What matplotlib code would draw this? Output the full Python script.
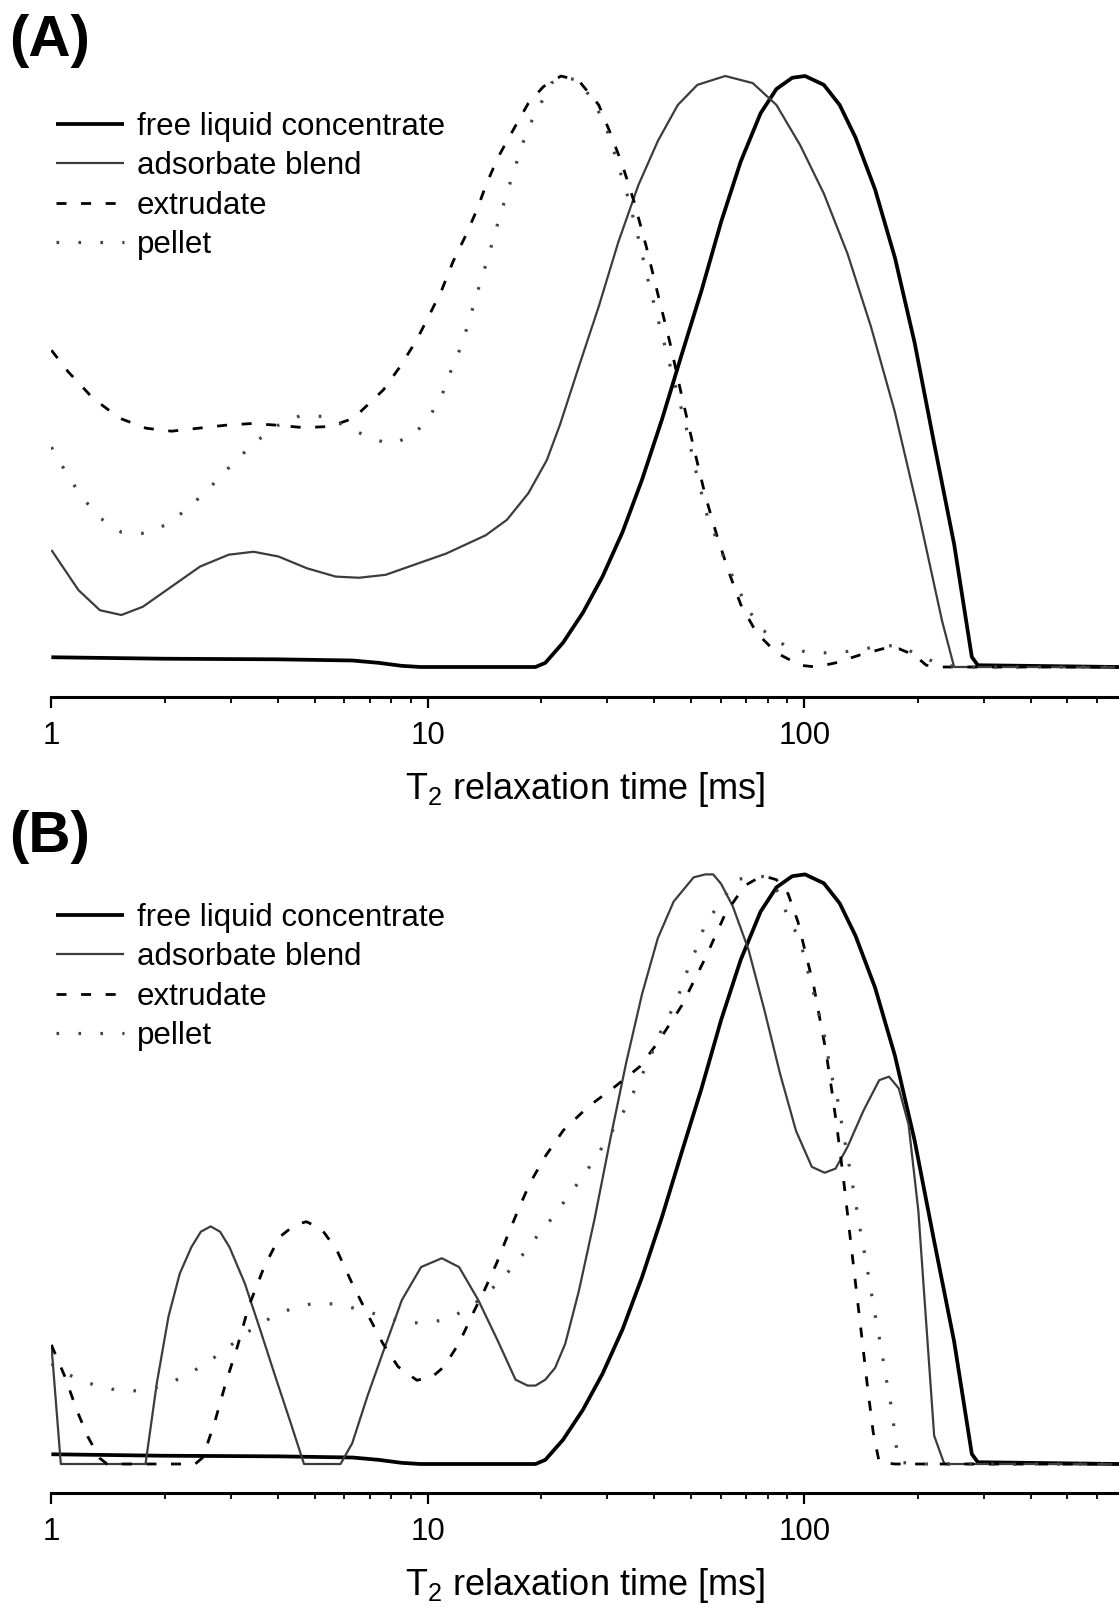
import numpy as np
from matplotlib import pyplot as plt
from matplotlib.ticker import LogLocator, NullFormatter, FixedLocator

plt.rcParams['font.family'] = ['Liberation Sans', 'DejaVu Sans']
plt.rcParams['mathtext.fontset'] = 'custom'
plt.rcParams['mathtext.rm'] = 'Liberation Sans'
plt.rcParams['lines.scale_dashes'] = False

labels = ["free liquid concentrate", "adsorbate blend", "extrudate", "pellet"]

# log10 of T2 [ms] and normalised amplitude
# free liquid concentrate is the same in both panels
log_t2_free = [0.0, 0.3, 0.6, 0.8, 0.87, 0.93, 0.98, 1.286, 1.312, 1.359, 1.412, 1.464, 1.517,
               1.569, 1.622, 1.674, 1.727, 1.779, 1.831, 1.884, 1.926, 1.968, 2.002, 2.052,
               2.094, 2.136, 2.188, 2.241, 2.293, 2.345, 2.398, 2.445, 2.461, 2.836]
amp_free = [0.0165, 0.014, 0.013, 0.011, 0.007, 0.002, 0.0, 0.0, 0.007, 0.041, 0.092, 0.153, 0.228,
            0.317, 0.419, 0.528, 0.637, 0.753, 0.855, 0.937, 0.978, 0.997, 1.0, 0.985,
            0.951, 0.896, 0.808, 0.692, 0.549, 0.378, 0.208, 0.017, 0.003, 0.0]

# panel A
log_t2_ads_a = [0.0, 0.072, 0.129, 0.186, 0.243, 0.319, 0.395, 0.471, 0.537, 0.603, 0.679, 0.755,
                0.817, 0.888, 0.964, 1.049, 1.154, 1.21, 1.267, 1.316, 1.351, 1.401, 1.454, 1.506,
                1.559, 1.611, 1.664, 1.716, 1.79, 1.863, 1.926, 1.989, 2.052, 2.115, 2.177, 2.24,
                2.303, 2.366, 2.398, 2.836]
amp_ads_a = [0.198, 0.130, 0.096, 0.088, 0.102, 0.136, 0.170, 0.190, 0.195, 0.187, 0.167, 0.153,
             0.151, 0.156, 0.173, 0.192, 0.223, 0.249, 0.294, 0.350, 0.410, 0.508, 0.610, 0.719,
             0.815, 0.890, 0.951, 0.985, 1.0, 0.988, 0.951, 0.883, 0.801, 0.699, 0.576, 0.433,
             0.262, 0.078, 0.0, 0.0]

log_t2_ext_a = [0.0, 0.044, 0.110, 0.181, 0.252, 0.319, 0.390, 0.461, 0.532, 0.603, 0.670, 0.741,
                0.803, 0.882, 0.926, 0.970, 1.006, 1.037, 1.067, 1.099, 1.130, 1.156, 1.187, 1.227,
                1.267, 1.307, 1.354, 1.401, 1.454, 1.485, 1.517, 1.548, 1.58, 1.611, 1.643, 1.674,
                1.706, 1.737, 1.768, 1.8, 1.831, 1.873, 1.926, 1.989, 2.031, 2.083, 2.146, 2.209,
                2.251, 2.293, 2.324, 2.366, 2.836]
amp_ext_a = [0.536, 0.500, 0.455, 0.421, 0.404, 0.399, 0.404, 0.409, 0.412, 0.409, 0.405, 0.407,
             0.421, 0.469, 0.508, 0.553, 0.598, 0.638, 0.686, 0.728, 0.773, 0.818, 0.863, 0.909,
             0.954, 0.982, 1.0, 0.992, 0.951, 0.903, 0.849, 0.787, 0.712, 0.631, 0.549, 0.460,
             0.372, 0.290, 0.222, 0.160, 0.106, 0.058, 0.024, 0.003, 0.0, 0.007, 0.020, 0.031,
             0.031, 0.020, 0.003, 0.0, 0.0]

log_t2_pel_a = [0.0, 0.039, 0.077, 0.127, 0.186, 0.246, 0.306, 0.366, 0.426, 0.483, 0.542, 0.602,
                0.660, 0.722, 0.781, 0.841, 0.900, 0.961, 1.009, 1.041, 1.063, 1.088, 1.107, 1.125,
                1.143, 1.161, 1.178, 1.196, 1.214, 1.233, 1.252, 1.276, 1.307, 1.328, 1.359, 1.401,
                1.443, 1.475, 1.496, 1.532, 1.559, 1.590, 1.622, 1.653, 1.685, 1.711, 1.742, 1.789,
                1.847, 1.884, 1.947, 2.010, 2.067, 2.130, 2.188, 2.251, 2.303, 2.366, 2.429, 2.836]
amp_pel_a = [0.372, 0.329, 0.291, 0.253, 0.228, 0.226, 0.241, 0.270, 0.307, 0.345, 0.381, 0.409,
             0.425, 0.424, 0.408, 0.389, 0.377, 0.391, 0.428, 0.466, 0.504, 0.542, 0.580, 0.620,
             0.658, 0.695, 0.734, 0.772, 0.810, 0.848, 0.886, 0.924, 0.962, 0.988, 0.999, 0.992,
             0.954, 0.910, 0.869, 0.794, 0.726, 0.641, 0.562, 0.487, 0.409, 0.334, 0.256, 0.181,
             0.102, 0.065, 0.037, 0.024, 0.024, 0.027, 0.034, 0.037, 0.020, 0.003, 0.0, 0.0]

# panel B
log_t2_ads_b = [0.0, 0.025, 0.25, 0.280, 0.311, 0.341, 0.372, 0.397, 0.423, 0.448, 0.473, 0.514,
                0.555, 0.595, 0.636, 0.671, 0.768, 0.799, 0.839, 0.880, 0.931, 0.982, 1.037, 1.083,
                1.134, 1.185, 1.233, 1.265, 1.286, 1.312, 1.338, 1.365, 1.401, 1.443, 1.485, 1.527,
                1.569, 1.611, 1.653, 1.706, 1.737, 1.758, 1.779, 1.81, 1.852, 1.894, 1.936, 1.978,
                2.02, 2.054, 2.083, 2.115, 2.157, 2.199, 2.225, 2.251, 2.277, 2.303, 2.324, 2.345,
                2.372, 2.836]
amp_ads_b = [0.202, 0.0, 0.0, 0.137, 0.250, 0.323, 0.368, 0.394, 0.403, 0.394, 0.368, 0.306,
             0.227, 0.148, 0.069, 0.0, 0.0, 0.035, 0.114, 0.188, 0.278, 0.334, 0.349, 0.334,
             0.278, 0.210, 0.143, 0.133, 0.133, 0.143, 0.163, 0.204, 0.293, 0.416, 0.552, 0.681,
             0.797, 0.892, 0.954, 0.995, 1.0, 1.0, 0.984, 0.946, 0.872, 0.770, 0.661, 0.565,
             0.504, 0.494, 0.501, 0.538, 0.599, 0.651, 0.657, 0.637, 0.576, 0.429, 0.238, 0.048,
             0.0, 0.0]

log_t2_ext_b = [0.0, 0.036, 0.067, 0.097, 0.128, 0.148, 0.382, 0.402, 0.433, 0.463, 0.494, 0.524,
                0.565, 0.606, 0.646, 0.677, 0.717, 0.758, 0.799, 0.839, 0.880, 0.921, 0.971, 1.012,
                1.043, 1.083, 1.124, 1.147, 1.183, 1.211, 1.240, 1.271, 1.311, 1.360, 1.426, 1.497,
                1.563, 1.611, 1.674, 1.737, 1.79, 1.842, 1.889, 1.926, 1.957, 1.983, 2.004, 2.025,
                2.041, 2.057, 2.073, 2.088, 2.104, 2.12, 2.136, 2.151, 2.167, 2.183, 2.199, 2.24,
                2.836]
amp_ext_b = [0.202, 0.148, 0.092, 0.046, 0.010, 0.0, 0.0, 0.011, 0.069, 0.137, 0.199, 0.267,
             0.334, 0.385, 0.405, 0.411, 0.399, 0.363, 0.306, 0.255, 0.205, 0.165, 0.142, 0.148,
             0.165, 0.205, 0.261, 0.290, 0.341, 0.386, 0.431, 0.476, 0.521, 0.566, 0.606, 0.640,
             0.674, 0.715, 0.777, 0.858, 0.933, 0.981, 0.998, 0.991, 0.967, 0.920, 0.865, 0.811,
             0.756, 0.702, 0.634, 0.565, 0.484, 0.395, 0.307, 0.225, 0.136, 0.054, 0.003, 0.0,
             0.0]

log_t2_pel_b = [0.0, 0.036, 0.099, 0.160, 0.219, 0.280, 0.341, 0.400, 0.460, 0.519, 0.580, 0.639,
                0.700, 0.760, 0.819, 0.880, 0.939, 0.999, 1.058, 1.119, 1.180, 1.234, 1.282, 1.330,
                1.375, 1.419, 1.459, 1.495, 1.530, 1.559, 1.588, 1.612, 1.643, 1.669, 1.69, 1.716,
                1.737, 1.779, 1.821, 1.873, 1.905, 1.936, 1.957, 1.989, 2.004, 2.02, 2.036, 2.052,
                2.062, 2.073, 2.088, 2.099, 2.109, 2.12, 2.13, 2.141, 2.151, 2.162, 2.172, 2.183,
                2.193, 2.204, 2.214, 2.225, 2.235, 2.241, 2.251, 2.303, 2.836]
amp_pel_b = [0.17, 0.154, 0.137, 0.127, 0.124, 0.130, 0.145, 0.166, 0.193, 0.223, 0.247, 0.264,
             0.273, 0.271, 0.262, 0.251, 0.240, 0.239, 0.247, 0.269, 0.303, 0.340, 0.380, 0.417,
             0.456, 0.494, 0.533, 0.570, 0.609, 0.647, 0.685, 0.725, 0.763, 0.800, 0.838, 0.879,
             0.916, 0.954, 0.991, 0.998, 0.995, 0.964, 0.926, 0.889, 0.848, 0.811, 0.770, 0.732,
             0.695, 0.657, 0.620, 0.579, 0.542, 0.504, 0.467, 0.426, 0.388, 0.351, 0.313, 0.272,
             0.235, 0.198, 0.157, 0.119, 0.082, 0.044, 0.003, 0.0, 0.0]


def plot_panel(ax, tag, tag_y, legend_y, series):
    styles = [dict(color='black', lw=2.7),
              dict(color='#3c3c3c', lw=1.6),
              dict(color='black', lw=2.0, dashes=(7.2, 10.5)),
              dict(color='#444444', lw=2.3, dashes=(1.9, 13.9))]
    for (lt, amp), lab, st in zip(series, labels, styles):
        ax.plot(10 ** np.array(lt), amp, label=lab, solid_capstyle='butt',
                dash_capstyle='butt', **st)

    ax.set_xscale('log')
    ax.set_xlim(1, 10 ** 2.836)
    ax.set_yticks([])
    for s in ['top', 'right', 'left']:
        ax.spines[s].set_visible(False)
    ax.spines['bottom'].set_linewidth(2.2)
    ax.xaxis.set_major_locator(FixedLocator([1, 10, 100]))
    ax.set_xticklabels(['1', '10', '100'])
    ax.xaxis.set_minor_locator(LogLocator(base=10, subs=np.arange(2, 10)))
    ax.xaxis.set_minor_formatter(NullFormatter())
    ax.tick_params(axis='x', which='major', direction='out', length=8, width=1.6,
                   labelsize=22.5, pad=9)
    ax.tick_params(axis='x', which='minor', direction='out', length=4.3, width=1.3)
    ax.set_xlabel(r'T$_{\mathregular{2}}$ relaxation time [ms]', fontsize=26, labelpad=14)

    ax.legend(loc='upper left', frameon=False, fontsize=22.5, handlelength=2.16,
              handletextpad=0.42, labelspacing=0.3, borderpad=0, borderaxespad=0,
              bbox_to_anchor=(56 / 1119, legend_y), bbox_transform=ax.figure.transFigure)
    ax.figure.text(0.008, tag_y, tag, fontsize=42, fontweight='bold', va='center')


fig = plt.figure(figsize=(11.19, 16.11), dpi=100)
ax_a = fig.add_axes([51.4 / 1119, 1 - 697 / 1611, 1 - 51.4 / 1119, (697 - 35) / 1611])
ax_a.set_ylim(-30 / 591, 1 + 41 / 591)
ax_b = fig.add_axes([51.4 / 1119, 1 - 1493 / 1611, 1 - 51.4 / 1119, (1493 - 835) / 1611])
ax_b.set_ylim(-29 / 589.6, 1 + 39.4 / 589.6)

plot_panel(ax_a, '(A)', 1 - 41 / 1611, 1 - 112 / 1611,
           [(log_t2_free, amp_free), (log_t2_ads_a, amp_ads_a),
            (log_t2_ext_a, amp_ext_a), (log_t2_pel_a, amp_pel_a)])
plot_panel(ax_b, '(B)', 1 - 837 / 1611, 1 - 903 / 1611,
           [(log_t2_free, amp_free), (log_t2_ads_b, amp_ads_b),
            (log_t2_ext_b, amp_ext_b), (log_t2_pel_b, amp_pel_b)])

plt.savefig("out.png", dpi=100)
